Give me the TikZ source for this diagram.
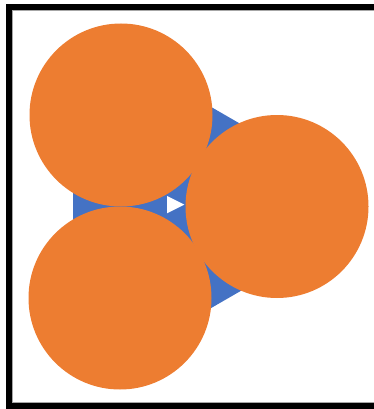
\documentclass[tikz,border=0pt]{standalone}
\usepackage{tikz}
\usetikzlibrary{positioning}
\definecolor{discorange}{HTML}{ED7D31}
\definecolor{triblue}{HTML}{4472C4}
\begin{document}
\begin{tikzpicture}[
    x=1pt, y=-1pt,
    disc/.style={circle, fill=discorange, minimum size=183pt, inner sep=0pt},
    frame/.style={draw=black, line width=6pt}
]
\useasboundingbox (0,0) rectangle (374,409);
\clip (0,0) rectangle (374,409);
% frame, cut off on the right
\draw[frame] (9,7) rectangle (392,406);
\draw[gray!70, line width=0.8pt] (12.6,10.4) rectangle (392,402.6);

% blue triangle behind the discs
\coordinate (apexT) at (73,27.2);
\coordinate (apexR) at (385.2,207.5);
\coordinate (apexB) at (73,387.8);
\fill[triblue, rounded corners=45pt] (apexT) -- (apexR) -- (apexB) -- cycle;

\node[disc] (upper) at (121,115) {};
\node[disc] (lower) at (120,298) {};
\node[disc] (right) at (277,206.5) {};

% small white triangle in the gap
\coordinate (wT) at (167,196);
\coordinate (wR) at (184.3,204.6);
\coordinate (wB) at (167,213.3);
\fill[white] (wT) -- (wR) -- (wB) -- cycle;
\end{tikzpicture}
\end{document}
